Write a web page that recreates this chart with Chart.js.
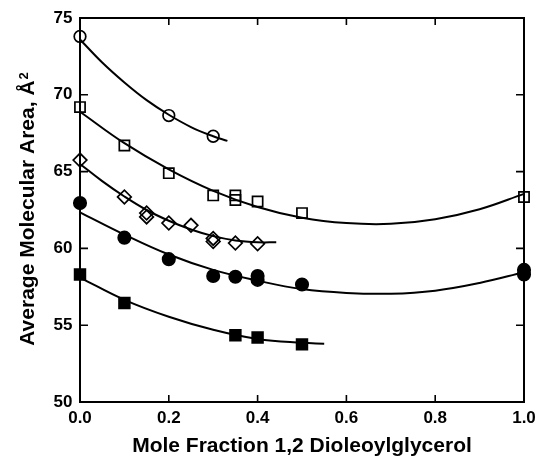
<!DOCTYPE html>
<html><head><meta charset="utf-8">
<script src="https://cdn.jsdelivr.net/npm/chart.js@4"></script>
<style>html,body{margin:0;padding:0;background:#fff;overflow:hidden}#wrap{width:537px;height:457px}</style>
</head><body><div id="wrap"><canvas id="c" width="537" height="457"></canvas></div>
<script>
// ---- axis ticks ----
const xTicks = [0, 0.2, 0.4, 0.6, 0.8, 1.0];
const xTickLabels = ['0.0', '0.2', '0.4', '0.6', '0.8', '1.0'];
const yTicks = [50, 55, 60, 65, 70, 75];
const yTickLabels = ['50', '55', '60', '65', '70', '75'];
const xTitle = 'Mole Fraction 1,2 Dioleoylglycerol';
const yTitle = 'Average Molecular Area, \u00C5';
const yTitleSup = '2';

// ---- measured points ----
const openCircleX = [0, 0.2, 0.3];
const openCircleY = [73.8, 68.65, 67.3];
const openSquareX = [0, 0.1, 0.2, 0.3, 0.35, 0.35, 0.4, 0.5, 1.0];
const openSquareY = [69.2, 66.7, 64.9, 63.45, 63.45, 63.15, 63.05, 62.3, 63.35];
const diamondX = [0, 0.1, 0.15, 0.15, 0.2, 0.25, 0.3, 0.3, 0.35, 0.4];
const diamondY = [65.75, 63.35, 62.3, 62.05, 61.65, 61.5, 60.65, 60.45, 60.35, 60.3];
const filledCircleX = [0, 0.1, 0.2, 0.3, 0.35, 0.4, 0.4, 0.5, 1.0, 1.0];
const filledCircleY = [62.95, 60.7, 59.3, 58.2, 58.15, 58.2, 57.95, 57.65, 58.6, 58.3];
const filledSquareX = [0, 0.1, 0.35, 0.4, 0.5];
const filledSquareY = [58.3, 56.45, 54.35, 54.2, 53.75];

// ---- fitted curves ----
const openCircleFitX = [0, 0.05, 0.1, 0.15, 0.2, 0.25, 0.3, 0.332];
const openCircleFitY = [73.6, 72.1, 70.8, 69.65, 68.7, 67.9, 67.3, 67.0];
const openSquareFitX = [0, 0.1, 0.2, 0.3, 0.4, 0.5, 0.6, 0.7, 0.8, 0.9, 1.0];
const openSquareFitY = [68.9, 66.85, 65.15, 63.75, 62.7, 62.0, 61.65, 61.6, 61.9, 62.55, 63.55];
const diamondFitX = [0, 0.05, 0.1, 0.15, 0.2, 0.25, 0.3, 0.35, 0.4, 0.442];
const diamondFitY = [65.5, 64.38, 63.38, 62.5, 61.8, 61.23, 60.8, 60.52, 60.4, 60.4];
const filledCircleFitX = [0, 0.1, 0.2, 0.3, 0.4, 0.5, 0.6, 0.7, 0.8, 0.9, 1.0];
const filledCircleFitY = [62.35, 60.9, 59.6, 58.6, 57.9, 57.35, 57.1, 57.05, 57.25, 57.75, 58.45];
const filledSquareFitX = [0, 0.1, 0.2, 0.3, 0.4, 0.5, 0.55];
const filledSquareFitY = [58.1, 56.65, 55.55, 54.7, 54.1, 53.85, 53.8];

const pts = (xs, ys) => xs.map((x, i) => ({x: x, y: ys[i]}));
const FONT = "'Liberation Sans', Arial, sans-serif";

function fit(xs, ys) {
  return {data: pts(xs, ys), showLine: true, borderColor: '#000', borderWidth: 2,
    pointRadius: 0, pointHoverRadius: 0, tension: 0.4, fill: false, clip: false};
}
function marks(xs, ys, style, r, filled) {
  return {data: pts(xs, ys), showLine: false, pointStyle: style, pointRadius: r,
    pointHoverRadius: r, pointBorderWidth: 1.7, borderColor: '#000',
    pointBorderColor: '#000', pointBackgroundColor: filled ? '#000' : 'rgba(0,0,0,0)', clip: false};
}

const frameTicks = {
  id: 'frameTicks',
  afterDraw(chart) {
    const {ctx, chartArea: a, scales: {x, y}} = chart;
    ctx.save();
    ctx.strokeStyle = '#000';
    ctx.lineWidth = 2;
    ctx.strokeRect(a.left, a.top, a.right - a.left, a.bottom - a.top);
    ctx.lineWidth = 1.6;
    ctx.beginPath();
    xTicks.forEach(v => {
      const px = x.getPixelForValue(v);
      ctx.moveTo(px, a.bottom); ctx.lineTo(px, a.bottom - 7);
      ctx.moveTo(px, a.top); ctx.lineTo(px, a.top + 7);
    });
    yTicks.forEach(v => {
      const py = y.getPixelForValue(v);
      ctx.moveTo(a.left, py); ctx.lineTo(a.left + 8, py);
      ctx.moveTo(a.right, py); ctx.lineTo(a.right - 8, py);
    });
    ctx.stroke();
    // y axis title with a real superscript
    const mainFont = 'bold 21px ' + FONT;
    const supFont = 'bold 13px ' + FONT;
    ctx.font = mainFont;
    const w1 = ctx.measureText(yTitle).width;
    ctx.font = supFont;
    const w2 = ctx.measureText(yTitleSup).width;
    const cy = (a.top + a.bottom) / 2 - 1;
    ctx.translate(34, cy);
    ctx.rotate(-Math.PI / 2);
    ctx.fillStyle = '#000';
    ctx.textBaseline = 'alphabetic';
    ctx.textAlign = 'left';
    const start = -(w1 + w2 + 1) / 2;
    ctx.font = mainFont;
    ctx.fillText(yTitle, start, 0);
    ctx.font = supFont;
    ctx.fillText(yTitleSup, start + w1 + 1, -6);
    ctx.restore();
  }
};

new Chart(document.getElementById('c'), {
  type: 'scatter',
  data: {datasets: [
    marks(openCircleX, openCircleY, 'circle', 5.8, false),
    marks(openSquareX, openSquareY, 'rect', 7.2, false),
    marks(diamondX, diamondY, 'rectRot', 6.8, false),
    marks(filledCircleX, filledCircleY, 'circle', 6.2, true),
    marks(filledSquareX, filledSquareY, 'rect', 7.6, true),
    fit(openCircleFitX, openCircleFitY),
    fit(openSquareFitX, openSquareFitY),
    fit(diamondFitX, diamondFitY),
    fit(filledCircleFitX, filledCircleFitY),
    fit(filledSquareFitX, filledSquareFitY)
  ]},
  options: {
    responsive: false, animation: false, devicePixelRatio: 1,
    layout: {padding: {left: 0, right: 13, top: 18, bottom: 0}},
    plugins: {legend: {display: false}, tooltip: {enabled: false}},
    scales: {
      x: {
        type: 'linear', min: 0, max: 1,
        afterBuildTicks: s => { s.ticks = xTicks.map(v => ({value: v})); },
        afterFit: s => { s.height = 55; s.paddingLeft = 0; s.paddingRight = 0; },
        grid: {display: false, drawTicks: false},
        border: {display: false},
        ticks: {autoSkip: false, maxRotation: 0, padding: 6.5, color: '#000',
          font: {family: FONT, size: 17, weight: 'bold'},
          callback: (v) => xTickLabels[xTicks.indexOf(v)]},
        title: {display: true, text: xTitle, color: '#000', padding: {top: 0, bottom: -2},
          font: {family: FONT, size: 21, weight: 'bold'}}
      },
      y: {
        type: 'linear', min: 50, max: 75,
        afterBuildTicks: s => { s.ticks = yTicks.map(v => ({value: v})); },
        afterFit: s => { s.width = 80; s.paddingTop = 0; s.paddingBottom = 0; },
        grid: {display: false, drawTicks: false},
        border: {display: false},
        ticks: {autoSkip: false, padding: 7.5, color: '#000',
          font: {family: FONT, size: 17, weight: 'bold'},
          callback: (v) => yTickLabels[yTicks.indexOf(v)]},
        title: {display: false}
      }
    }
  },
  plugins: [frameTicks]
});
</script></body></html>
